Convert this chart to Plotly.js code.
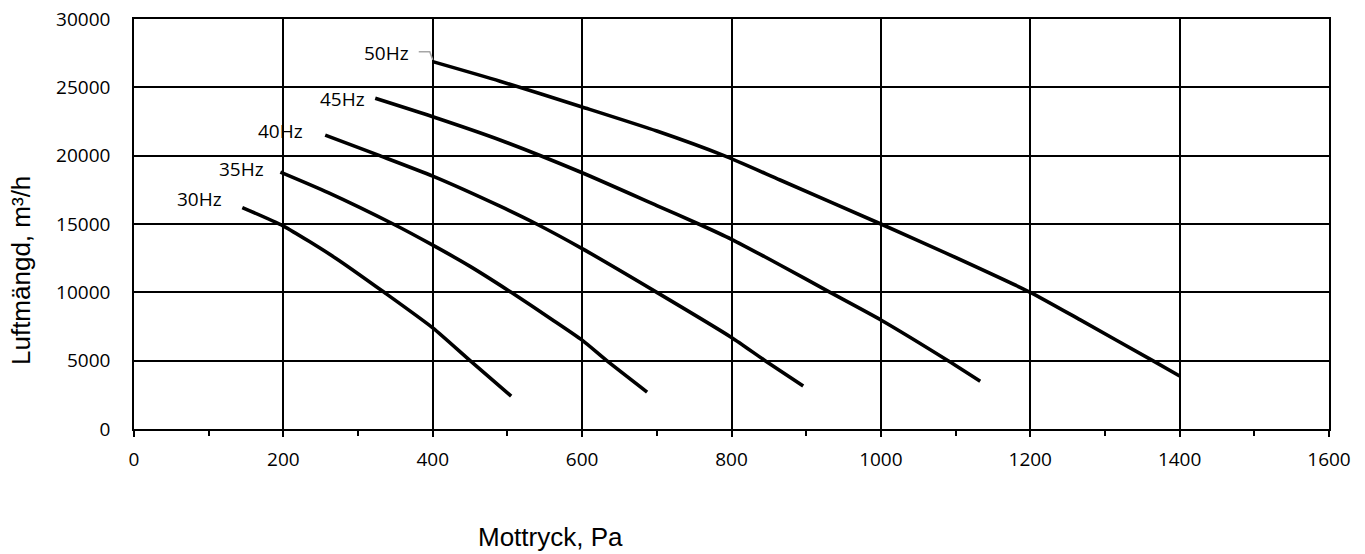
<!DOCTYPE html>
<html>
<head>
<meta charset="utf-8">
<script src="https://cdn.plot.ly/plotly-3.0.1.min.js"></script>
<style>html,body{margin:0;padding:0;background:#fff;}#chart{width:1365px;height:554px;}</style>
</head>
<body>
<div id="chart"></div>
<script>
// Series: pressure (Pa) vs airflow (m³/h)
const seriesNames = ["30Hz", "35Hz", "40Hz", "45Hz", "50Hz"];
const x30 = [145, 200, 270, 335, 400, 450, 505];
const y30 = [16200, 14850, 12500, 10000, 7400, 5000, 2400];
const x35 = [196, 260, 347, 400, 450, 505, 560, 600, 633, 687];
const y35 = [18800, 17300, 15000, 13450, 11900, 10000, 8000, 6500, 5000, 2700];
const x40 = [256, 329, 400, 490, 539, 600, 700, 800, 845, 896];
const y40 = [21500, 20000, 18500, 16300, 15000, 13200, 10000, 6700, 5000, 3150];
const x45 = [323, 400, 490, 600, 700, 756, 800, 865, 932, 1000, 1090, 1133];
const y45 = [24200, 22850, 21150, 18750, 16350, 15000, 13880, 12000, 10000, 7980, 5000, 3500];
const x50 = [400, 490, 600, 700, 790, 865, 1000, 1093, 1200, 1267, 1364, 1400];
const y50 = [26880, 25450, 23560, 21800, 20000, 18220, 15000, 12730, 10000, 7980, 5000, 3880];
const xTicks = [0, 200, 400, 600, 800, 1000, 1200, 1400, 1600];
const yTicks = [0, 5000, 10000, 15000, 20000, 25000, 30000];
const xTitle = "Mottryck, Pa";
const yTitle = "Luftmängd, m³/h";

const xs = [x30, x35, x40, x45, x50];
const ys = [y30, y35, y40, y45, y50];
const labelShift = [[-18, 9], [-14, 3], [-20, 4], [-8, -1], [-22, 9]];

const traces = xs.map((x, i) => ({
  x: x, y: ys[i], name: seriesNames[i], type: 'scatter', mode: 'lines',
  line: {color: '#000', width: 3.6, shape: 'spline', smoothing: 0.6},
  hoverinfo: 'x+y+name'
}));

const tickFont = {family: 'Open Sans, sans-serif', size: 19, color: '#000'};
const annotations = xs.map((x, i) => ({
  x: x[0], y: ys[i][0], xref: 'x', yref: 'y', text: seriesNames[i],
  showarrow: false, xanchor: 'right', yanchor: 'middle',
  xshift: labelShift[i][0], yshift: labelShift[i][1], font: tickFont
}));
annotations.push({
  xref: 'paper', yref: 'paper', x: (550 - 134) / 1195, y: -(537 - 429) / 410,
  text: xTitle, showarrow: false, xanchor: 'center', yanchor: 'middle',
  font: {family: 'Liberation Sans, Arial, sans-serif', size: 26, color: '#000'}
});
annotations.push({
  xref: 'paper', yref: 'paper', x: -(134 - 21) / 1195, y: (429 - 271) / 410,
  text: yTitle, showarrow: false, xanchor: 'center', yanchor: 'middle', textangle: -90,
  font: {family: 'Liberation Sans, Arial, sans-serif', size: 26, color: '#000'}
});

const layout = {
  width: 1365, height: 554,
  margin: {l: 134, r: 36, t: 19, b: 125},
  paper_bgcolor: '#fff', plot_bgcolor: '#fff',
  showlegend: false,
  xaxis: {
    range: [0, 1600], tickvals: xTicks, ticktext: xTicks.map(String),
    showgrid: true, gridcolor: '#000', gridwidth: 1.5,
    zeroline: false, showline: true, linecolor: '#000', linewidth: 1.5, mirror: true,
    ticks: 'outside', ticklen: 6, tickwidth: 1.5, tickcolor: '#000',
    minor: {dtick: 100, tick0: 0, ticks: 'outside', ticklen: 5, tickwidth: 1.5, tickcolor: '#000', showgrid: false},
    tickfont: tickFont, ticklabelstandoff: 6
  },
  yaxis: {
    range: [0, 30000], tickvals: yTicks, ticktext: yTicks.map(String),
    showgrid: true, gridcolor: '#000', gridwidth: 1.5,
    zeroline: false, showline: true, linecolor: '#000', linewidth: 1.5, mirror: true,
    ticks: '', tickfont: tickFont, ticklabelstandoff: 18
  },
  annotations: annotations,
  shapes: [{
    type: 'path', xref: 'x', yref: 'y', xsizemode: 'pixel', ysizemode: 'pixel',
    xanchor: x50[0], yanchor: y50[0],
    path: 'M-14,10 L-3,10 L0,2', line: {color: '#a6a6a6', width: 1.5}
  }]
};

Plotly.newPlot('chart', traces, layout, {displayModeBar: false, responsive: false});
</script>
</body>
</html>
